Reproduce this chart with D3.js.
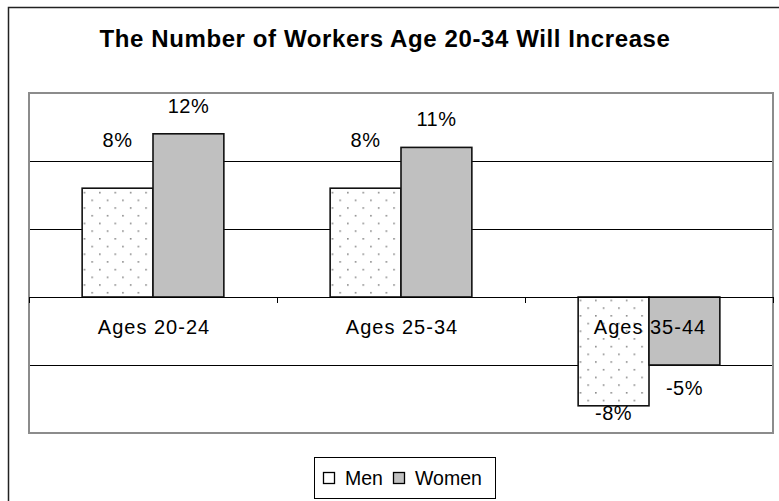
<!DOCTYPE html>
<html>
<head>
<meta charset="utf-8">
<script src="https://cdn.jsdelivr.net/npm/d3@7"></script>
<style>
  html, body { margin: 0; padding: 0; background: #fff; }
  svg { display: block; font-family: Arial, "Liberation Sans", sans-serif; }
</style>
</head>
<body>
<div id="chart"></div>
<script>
// Chart data
const categories = ['Ages 20-24', 'Ages 25-34', 'Ages 35-44'];
const seriesNames = ['Men', 'Women'];
const menValues = [8, 8, -8];
const womenValues = [12, 11, -5];
const gridValues = [-10, -5, 0, 5, 10, 15];
const chartTitle = 'The Number of Workers Age 20-34 Will Increase';

const width = 779, height = 501;
const plot = { left: 29, top: 93, right: 773, bottom: 433 };

// label offsets from the bar end (positive bars go up, negative go down)
const labelOffset = { Men: { pos: -41, neg: 14 }, Women: { pos: -21, neg: 30 } };
const fills = { Men: 'url(#dots)', Women: '#c0c0c0' };

const svg = d3.select('#chart')
  .append('svg')
  .attr('width', width)
  .attr('height', height);

// dotted fill for men bars
const defs = svg.append('defs');
const pat = defs.append('pattern')
  .attr('id', 'dots')
  .attr('patternUnits', 'userSpaceOnUse')
  .attr('x', 1.5).attr('y', 7)
  .attr('width', 15.4).attr('height', 15.4);
pat.append('rect').attr('width', 15.4).attr('height', 15.4).attr('fill', '#fff');
pat.append('rect').attr('x', 0).attr('y', 0).attr('width', 1.6).attr('height', 1.6).attr('fill', '#8a8a8a');
pat.append('rect').attr('x', 7.7).attr('y', 7.7).attr('width', 1.6).attr('height', 1.6).attr('fill', '#8a8a8a');

// outer chart border
svg.append('rect')
  .attr('x', 8.5).attr('y', 7.5)
  .attr('width', 800).attr('height', 600)
  .attr('fill', '#fff')
  .attr('stroke', '#222')
  .attr('stroke-width', 1.5);

// title
svg.append('text')
  .attr('x', 385)
  .attr('y', 47)
  .attr('text-anchor', 'middle')
  .style('font-size', '24px')
  .style('font-weight', 'bold')
  .style('letter-spacing', '0.6px')
  .text(chartTitle);

// scales
const x = d3.scaleBand()
  .domain(categories)
  .range([plot.left, plot.right])
  .paddingInner(0.4286)
  .paddingOuter(0.2143);

const xSub = d3.scaleBand()
  .domain(seriesNames)
  .range([0, x.bandwidth()]);

const y = d3.scaleLinear()
  .domain([d3.min(gridValues), d3.max(gridValues)])
  .range([plot.bottom, plot.top]);

// gridlines
svg.append('g')
  .selectAll('line')
  .data(gridValues.filter(v => v !== d3.min(gridValues) && v !== d3.max(gridValues)))
  .enter()
  .append('line')
  .attr('x1', plot.left).attr('x2', plot.right)
  .attr('y1', d => Math.round(y(d)) + 0.5)
  .attr('y2', d => Math.round(y(d)) + 0.5)
  .attr('stroke', '#000')
  .attr('stroke-width', 1);

// plot area border
svg.append('rect')
  .attr('x', plot.left).attr('y', plot.top)
  .attr('width', plot.right - plot.left)
  .attr('height', plot.bottom - plot.top)
  .attr('fill', 'none')
  .attr('stroke', '#8c8c8c')
  .attr('stroke-width', 2);

// category tick marks on zero line
const tickXs = d3.range(categories.length + 1).map(i => plot.left + i * (plot.right - plot.left) / categories.length);
svg.append('g')
  .selectAll('line')
  .data(tickXs)
  .enter()
  .append('line')
  .attr('x1', d => Math.round(d) + 0.5).attr('x2', d => Math.round(d) + 0.5)
  .attr('y1', Math.round(y(0))).attr('y2', Math.round(y(0)) + 6)
  .attr('stroke', '#000');

// bars
const rows = categories.map((c, i) => ({
  category: c,
  values: [
    { series: 'Men', value: menValues[i] },
    { series: 'Women', value: womenValues[i] }
  ]
}));

const groups = svg.append('g')
  .selectAll('g')
  .data(rows)
  .enter()
  .append('g')
  .attr('transform', d => `translate(${x(d.category)},0)`);

groups.selectAll('rect')
  .data(d => d.values)
  .enter()
  .append('rect')
  .attr('x', d => xSub(d.series))
  .attr('y', d => y(Math.max(0, d.value)))
  .attr('width', xSub.bandwidth())
  .attr('height', d => Math.abs(y(d.value) - y(0)))
  .attr('fill', d => fills[d.series])
  .attr('stroke', '#111')
  .attr('stroke-width', 1.6);

// value labels
groups.selectAll('text')
  .data(d => d.values)
  .enter()
  .append('text')
  .attr('x', d => xSub(d.series) + xSub.bandwidth() / 2)
  .attr('y', d => y(d.value) + (d.value >= 0 ? labelOffset[d.series].pos : labelOffset[d.series].neg))
  .attr('text-anchor', 'middle')
  .style('font-size', '20px')
  .style('letter-spacing', '0.5px')
  .text(d => `${d.value}%`);

// zero axis line
svg.append('line')
  .attr('x1', plot.left).attr('x2', plot.right)
  .attr('y1', Math.round(y(0)) + 0.5).attr('y2', Math.round(y(0)) + 0.5)
  .attr('stroke', '#000');

// category labels
svg.append('g')
  .selectAll('text')
  .data(categories)
  .enter()
  .append('text')
  .attr('x', d => x(d) + x.bandwidth() / 2 + 1)
  .attr('y', y(0) + 37)
  .attr('text-anchor', 'middle')
  .style('font-size', '20px')
  .style('letter-spacing', '1px')
  .text(d => d);

// legend
const legend = svg.append('g');
legend.append('rect')
  .attr('x', 314.5).attr('y', 457.5)
  .attr('width', 181).attr('height', 41)
  .attr('fill', '#fff')
  .attr('stroke', '#000');

const legendItems = [
  { name: seriesNames[0], fill: '#fff', x: 323 },
  { name: seriesNames[1], fill: '#c0c0c0', x: 393 }
];
const li = legend.selectAll('g.item')
  .data(legendItems)
  .enter()
  .append('g')
  .attr('class', 'item');
li.append('rect')
  .attr('x', d => d.x + 0.5).attr('y', 472.5)
  .attr('width', 11).attr('height', 11)
  .attr('fill', d => d.fill)
  .attr('stroke', '#000')
  .attr('stroke-width', 1.3);
li.append('text')
  .attr('x', d => d.x + 22)
  .attr('y', 485)
  .style('font-size', '19.5px')
  .text(d => d.name);
</script>
</body>
</html>
